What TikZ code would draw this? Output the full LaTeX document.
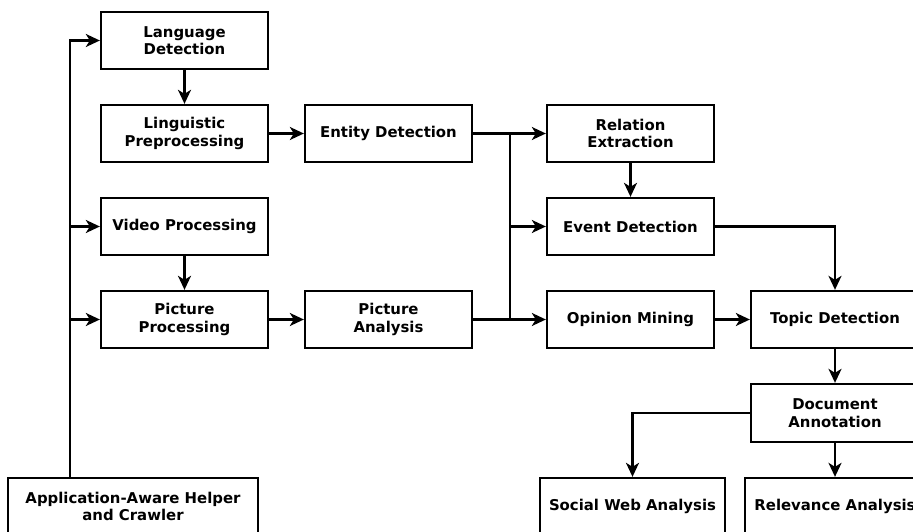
\documentclass[tikz,border=0pt]{standalone}
\usepackage{fontspec}
\setmainfont{DejaVu Sans}
\usetikzlibrary{arrows.meta}
\tikzset{
  box/.style={draw, line width=2.3pt, align=center, minimum width=167pt, minimum height=57pt,
    inner sep=2pt, font=\fontsize{14.9}{17.5}\selectfont\bfseries},
  conn/.style={line width=2.3pt},
  arr/.style={line width=2.3pt, -{Stealth[length=14pt,width=13pt,inset=4pt]}},
}
\begin{document}
\begin{tikzpicture}[x=1pt,y=-1pt]
\useasboundingbox (0,0) rectangle (913,532);
\clip (0,0) rectangle (913,532);
\node[box] (lang) at (184.5,40.5) {Language\\Detection};
\node[box] (ling) at (184.5,133.5) {Linguistic\\Preprocessing};
\node[box] (entity) at (388.5,133.5) {Entity Detection};
\node[box] (video) at (184.5,226.5) {Video Processing};
\node[box] (picproc) at (184.5,319.5) {Picture\\Processing};
\node[box] (picana) at (388.5,319.5) {Picture\\Analysis};
\node[box] (rel) at (630.5,133.5) {Relation\\Extraction};
\node[box] (event) at (630.5,226.5) {Event Detection};
\node[box] (opinion) at (630.5,319.5) {Opinion Mining};
\node[box, minimum width=168pt] (topic) at (835,319.5) {Topic Detection};
\node[box, minimum width=168pt, minimum height=58pt] (docann) at (835,413) {Document\\Annotation};
\node[box, minimum width=185pt] (social) at (632.5,506.5) {Social Web Analysis};
\node[box, minimum width=180pt] (relev) at (835,506.5) {Relevance Analysis};
\node[box, minimum width=250pt] (app) at (133,506.5) {Application-Aware Helper\\and Crawler};
\coordinate (tb) at (70,478);
\coordinate (br) at (510,133.5);
% trunk from crawler
\draw[arr] (tb) |- (lang.west);
\draw[arr] (tb |- video.west) -- (video.west);
\draw[arr] (tb |- picproc.west) -- (picproc.west);
\draw[arr] (lang.south) -- (ling.north);
\draw[arr] (ling.east) -- (entity.west);
\draw[arr] (video.south) -- (picproc.north);
\draw[arr] (picproc.east) -- (picana.west);
% branch
\draw[arr] (entity.east) -- (rel.west);
\draw[conn] (br) -- (br |- picana.east);
\draw[arr] (picana.east) -- (opinion.west);
\draw[arr] (br |- event.west) -- (event.west);
\draw[arr] (rel.south) -- (event.north);
\draw[arr] (event.east) -| (topic.north);
\draw[arr] (opinion.east) -- (topic.west);
\draw[arr] (topic.south) -- (docann.north);
\draw[arr] (docann.west) -| (social.north);
\draw[arr] (docann.south) -- (relev.north);
\end{tikzpicture}
\end{document}
